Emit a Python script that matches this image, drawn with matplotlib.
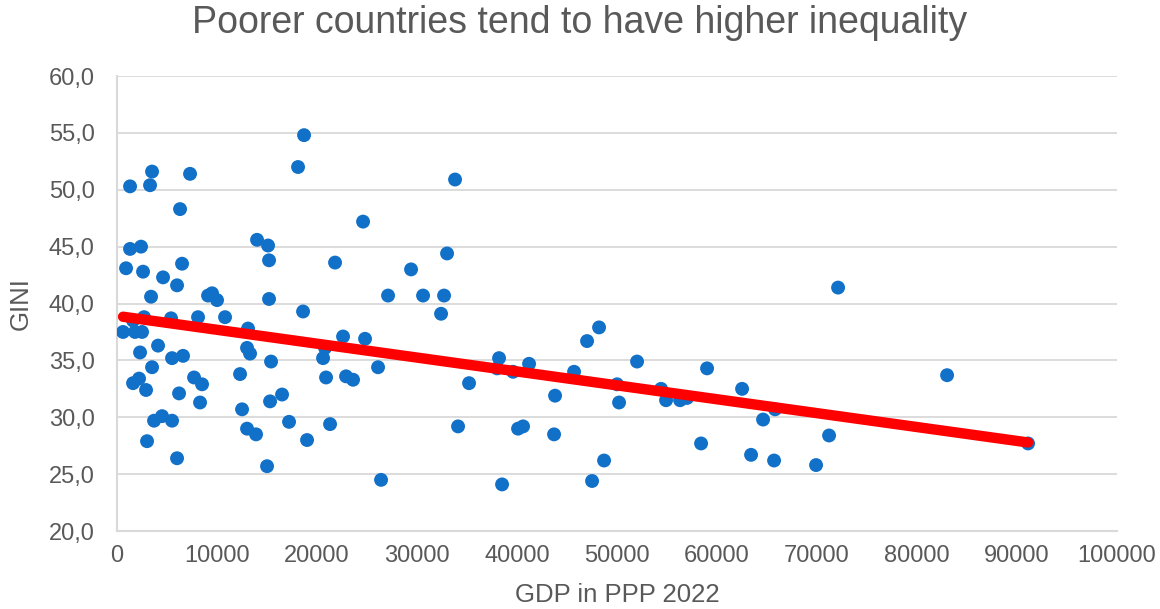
import numpy as np
import matplotlib
matplotlib.use("Agg")
import matplotlib.pyplot as plt
from matplotlib.ticker import FuncFormatter, MultipleLocator

plt.rcParams['font.family'] = ['Liberation Sans', 'DejaVu Sans']

# GDP per capita (PPP, 2022) and GINI index by country
gdp = [600, 900, 1300, 1300, 1600, 1600, 1800, 2300, 2200, 2400, 2500, 2600,
       2700, 2900, 3000, 3300, 3500, 3400, 3500, 3700, 4100, 4600, 4500, 5400,
       5500, 5500, 6000, 6000, 6200, 6300, 6500, 6600, 7300, 7700, 8100, 8300,
       8500, 9100, 9500, 10000, 10800, 12300, 12500, 13000, 13100, 13000, 13300,
       13900, 14000, 15000, 15100, 15200, 15200, 15300, 15400, 16500, 17200,
       18100, 18700, 18600, 19000, 20600, 20800, 20900, 21300, 21800, 22600,
       22900, 23600, 24600, 24800, 26100, 26400, 27100, 29400, 30600, 32400,
       32700, 33000, 33800, 34100, 35200, 38200, 38000, 38500, 39600, 40100,
       40600, 41200, 43800, 43700, 45700, 47000, 47500, 48200, 48700, 50000,
       50200, 52000, 54400, 54900, 56300, 57000, 58400, 59000, 62500, 63400,
       64600, 65800, 65700, 69900, 71200, 72100, 83000, 91100]
gini = [37.5, 43.1, 44.8, 50.3, 33.0, 38.5, 37.5, 35.7, 33.4, 45.0, 37.5, 42.8,
        38.8, 32.4, 27.9, 50.4, 51.6, 40.6, 34.4, 29.7, 36.3, 42.3, 30.1, 38.7,
        35.2, 29.7, 26.4, 41.6, 32.1, 48.3, 43.5, 35.4, 51.4, 33.5, 38.8, 31.3,
        32.9, 40.7, 40.9, 40.3, 38.8, 33.8, 30.7, 29.0, 37.8, 36.1, 35.6,
        28.5, 45.6, 25.7, 45.1, 43.8, 40.4, 31.4, 34.9, 32.0, 29.6,
        52.0, 54.8, 39.3, 28.0, 35.2, 36.1, 33.5, 29.4, 43.6, 37.1,
        33.6, 33.3, 47.2, 36.9, 34.4, 24.5, 40.7, 43.0, 40.7, 39.1,
        40.7, 44.4, 50.9, 29.2, 33.0, 35.2, 34.3, 24.1, 34.0, 29.0,
        29.2, 34.7, 31.9, 28.5, 34.0, 36.7, 24.4, 37.9, 26.2, 32.9,
        31.3, 34.9, 32.5, 31.5, 31.5, 31.7, 27.7, 34.3, 32.5, 26.7,
        29.8, 30.7, 26.2, 25.8, 28.4, 41.4, 33.7, 27.7]

title = "Poorer countries tend to have higher inequality"
x_label = "GDP in PPP 2022"
y_label = "GINI"

gdp = np.array(gdp, dtype=float)
gini = np.array(gini, dtype=float)

fig = plt.figure(figsize=(11.6, 6.09), dpi=100)
ax = fig.add_axes([0.1009, 0.128, 0.8621, 0.7472])

text_color = "#595959"
grid_color = "#D9D9D9"

ax.scatter(gdp, gini, s=100, color="#1170C8", edgecolors="none", zorder=3)

# Linear least-squares trend across the observed GDP range
slope, intercept = np.polyfit(gdp, gini, 1)
xt = np.array([gdp.min(), gdp.max()])
ax.plot(xt, slope * xt + intercept, color="#FF0000", lw=7.5,
        solid_capstyle="round", zorder=4)

ax.set_xlim(0, 100000)
ax.set_ylim(20, 60)
ax.xaxis.set_major_locator(MultipleLocator(10000))
ax.yaxis.set_major_locator(MultipleLocator(5))
ax.yaxis.set_major_formatter(FuncFormatter(lambda v, p: f"{v:.1f}".replace(".", ",")))
ax.xaxis.set_major_formatter(FuncFormatter(lambda v, p: f"{int(v)}"))

ax.grid(axis="y", color=grid_color, lw=1.3, zorder=0)
ax.set_axisbelow(True)
for side in ("top", "right"):
    ax.spines[side].set_visible(False)
for side in ("left", "bottom"):
    ax.spines[side].set_color(grid_color)
    ax.spines[side].set_linewidth(1.5)

ax.tick_params(axis="both", length=0, labelsize=17, colors=text_color)
ax.tick_params(axis="y", pad=16)
ax.tick_params(axis="x", pad=10)

ax.set_xlabel(x_label, fontsize=18.5, color=text_color)
ax.xaxis.set_label_coords(0.5, -0.141)
ax.xaxis.label.set_va("center")
ax.set_ylabel(y_label, fontsize=18.5, color=text_color)
ax.yaxis.set_label_coords(-0.096, 0.5)
ax.yaxis.label.set_va("center")

fig.suptitle(title, fontsize=27, color=text_color, y=0.992)

fig.savefig("out.png", dpi=100, facecolor="white")
